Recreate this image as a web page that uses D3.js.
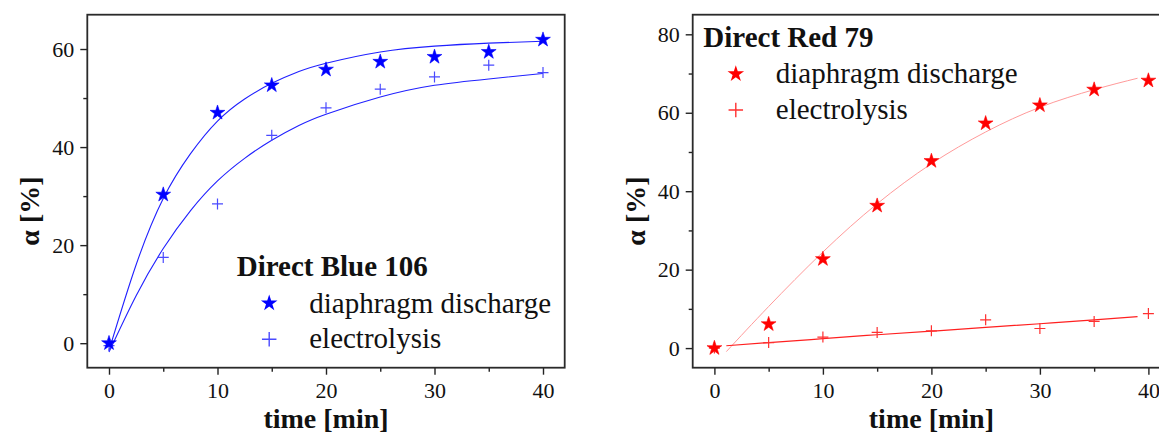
<!DOCTYPE html>
<html>
<head>
    <meta charset="UTF-8">
    <title>Degradation of Direct Blue 106 and Direct Red 79</title>
    <script src="https://d3js.org/d3.v7.min.js"></script>
    <style>
        body { margin: 0; background: #fff; }
        svg { display: block; }
        text { fill: #111; }
        .axis-label { font-size: 28px; font-weight: bold; }
        .legend-title { font-size: 29px; font-weight: bold; }
    </style>
</head>
<body>
    <svg width="1159" height="434"></svg>

    <script>
        // measured times [min]
        const time = [0, 5, 10, 15, 20, 25, 30, 35, 40];

        // Direct Blue 106, alpha [%]
        const blueDischarge = [0, 30.3, 47.0, 52.6, 55.8, 57.4, 58.4, 59.4, 61.9];
        const blueElectrolysis = [-0.5, 17.5, 28.4, 42.4, 48.0, 51.8, 54.3, 56.7, 55.2];

        // Direct Red 79, alpha [%]
        const redDischarge = [0, 6.1, 22.7, 36.3, 47.7, 57.3, 61.9, 65.9, 68.2];
        const redElectrolysis = [0, 1.4, 2.8, 4.0, 4.4, 7.2, 5.0, 6.8, 8.8];

        // fitted curves
        const blueFitTime = [0, 2.5, 5, 7.5, 10, 12.5, 15, 17.5, 20, 25, 30, 35, 40];
        const blueDischargeFit = [-1.5, 16, 29.5, 38.6, 45.3, 49.8, 53.0, 55.4, 57.1, 59.4, 60.6, 61.2, 61.6];
        const blueElectrolysisFit = [-1.8, 9.7, 19.3, 27, 33.1, 37.7, 41.4, 44.4, 46.7, 50.2, 52.6, 53.9, 55.0];

        const redFitTime = [1.1, 5, 10, 15, 20, 25, 30, 35, 39];
        const redDischargeFit = [-0.9, 10.6, 24.5, 36.8, 47.0, 55.1, 61.4, 65.9, 68.8];
        const redElectrolysisFit = [0.6, 1.4, 2.4, 3.4, 4.3, 5.3, 6.2, 7.2, 8.0];

        const xTicks = [0, 10, 20, 30, 40];
        const xMinor = [5, 15, 25, 35];

        const svg = d3.select("svg");
        const serif = "'Liberation Serif'";

        const plus = {
            draw(ctx, size) {
                const r = Math.sqrt(size) / 2;
                ctx.moveTo(-r, 0); ctx.lineTo(r, 0);
                ctx.moveTo(0, -r); ctx.lineTo(0, r);
            }
        };

        function panel(cfg) {
            const left = cfg.left, top = 14.7, w = 477.4, h = 353;
            const x = d3.scaleLinear().domain([-2, 42]).range([left, left + w]);
            const y = d3.scaleLinear().domain(cfg.yDomain).range([top + h, top]);
            const g = svg.append("g");

            // ticks
            g.append("g").attr("transform", `translate(0,${top + h})`)
                .call(d3.axisBottom(x).tickValues(xTicks).tickSize(7).tickPadding(8));
            g.append("g").attr("transform", `translate(0,${top + h})`)
                .call(d3.axisBottom(x).tickValues(xMinor).tickSize(4).tickFormat(""));
            g.append("g").attr("transform", `translate(${left},0)`)
                .call(d3.axisLeft(y).tickValues(cfg.yTicks).tickSize(7).tickPadding(6));
            g.append("g").attr("transform", `translate(${left},0)`)
                .call(d3.axisLeft(y).tickValues(cfg.yMinor).tickSize(4).tickFormat(""));
            g.selectAll(".domain").remove();
            g.selectAll(".tick line").attr("stroke", "#222").attr("stroke-width", 1.4);
            g.selectAll(".tick text").attr("fill", "#111")
                .attr("font-family", serif).attr("font-size", 22);

            // frame
            g.append("rect")
                .attr("x", left).attr("y", top).attr("width", w).attr("height", h)
                .attr("fill", "none").attr("stroke", "#2a2a2a").attr("stroke-width", 1.8);

            // fit lines
            const line = d3.line().x(d => x(d[0])).y(d => y(d[1])).curve(d3.curveNatural);
            cfg.fits.forEach(f => {
                g.append("path")
                    .datum(d3.zip(f.t, f.v))
                    .attr("d", line)
                    .attr("fill", "none")
                    .attr("stroke", f.color)
                    .attr("stroke-width", f.width);
            });

            // markers
            const star = d3.symbol(d3.symbolStar, 68);
            const cross = d3.symbol(plus, 121);
            g.selectAll(".pl").data(d3.zip(time, cfg.electrolysis)).join("path")
                .attr("transform", d => `translate(${x(d[0])},${y(d[1])})`)
                .attr("d", cross).attr("fill", "none")
                .attr("stroke", cfg.plusColor).attr("stroke-width", 1.2);
            g.selectAll(".st").data(d3.zip(time, cfg.discharge)).join("path")
                .attr("transform", d => `translate(${x(d[0])},${y(d[1])})`)
                .attr("d", star).attr("fill", cfg.color)
                .attr("stroke", cfg.color).attr("stroke-width", 0.6);

            // axis labels
            g.append("text").attr("class", "axis-label").attr("font-family", serif)
                .attr("x", left + w / 2).attr("y", 428)
                .attr("text-anchor", "middle").text("time [min]");
            g.append("text").attr("class", "axis-label").attr("font-family", serif)
                .attr("transform", `translate(${left - 48},${211}) rotate(-90)`)
                .attr("text-anchor", "middle").text("α [%]");

            // legend
            const lg = g.append("g").attr("transform", `translate(${cfg.legend[0]},${cfg.legend[1]})`);
            lg.append("text").attr("class", "legend-title").attr("font-family", serif)
                .attr("x", 0).attr("y", 0).text(cfg.title);
            lg.append("path").attr("transform", "translate(32.5,27.3)")
                .attr("d", d3.symbol(d3.symbolStar, 85)).attr("fill", cfg.color);
            lg.append("text").attr("font-family", serif).attr("font-size", 29)
                .attr("x", 72.5).attr("y", 36.5).text("diaphragm discharge");
            lg.append("path").attr("transform", "translate(32.5,63.3)")
                .attr("d", d3.symbol(plus, 210)).attr("fill", "none")
                .attr("stroke", cfg.plusColor).attr("stroke-width", 1.4);
            lg.append("text").attr("font-family", serif).attr("font-size", 29)
                .attr("x", 72.5).attr("y", 72.3).text("electrolysis");
        }

        panel({
            left: 87.3,
            yDomain: [-5, 67],
            yTicks: [0, 20, 40, 60],
            yMinor: [10, 30, 50],
            discharge: blueDischarge,
            electrolysis: blueElectrolysis,
            color: "#0000ff",
            plusColor: "#4a4aff",
            fits: [
                { t: blueFitTime, v: blueDischargeFit, color: "#2020ff", width: 1.1 },
                { t: blueFitTime, v: blueElectrolysisFit, color: "#2020ff", width: 1.1 }
            ],
            title: "Direct Blue 106",
            legend: [236.7, 276]
        });

        panel({
            left: 692.7,
            yDomain: [-5, 85],
            yTicks: [0, 20, 40, 60, 80],
            yMinor: [10, 30, 50, 70],
            discharge: redDischarge,
            electrolysis: redElectrolysis,
            color: "#ff0000",
            plusColor: "#ff3030",
            fits: [
                { t: redFitTime, v: redDischargeFit, color: "#ff9a9a", width: 1 },
                { t: redFitTime, v: redElectrolysisFit, color: "#ff2020", width: 1.2 }
            ],
            title: "Direct Red 79",
            legend: [703.3, 46.7]
        });
    </script>
</body>
</html>
